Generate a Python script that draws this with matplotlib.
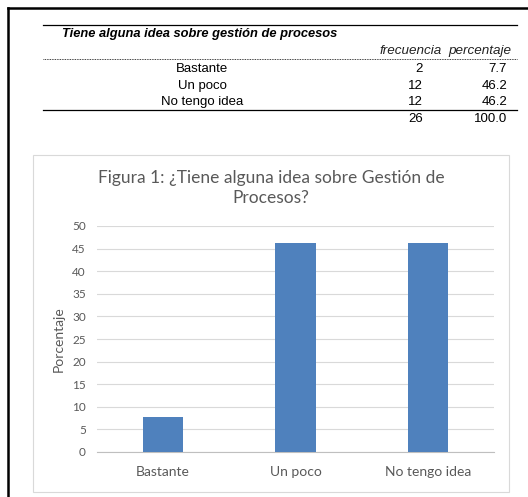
import matplotlib
matplotlib.use("Agg")
import matplotlib.pyplot as plt
from matplotlib.lines import Line2D
from matplotlib.patches import Rectangle

# survey answers: frequency and percentage
categorias = ["Bastante", "Un poco", "No tengo idea"]
frecuencia = [2, 12, 12]
porcentaje = [7.7, 46.2, 46.2]
total_frec = 26
total_pct = 100.0

W, H = 528, 497
fig = plt.figure(figsize=(W / 100, H / 100), dpi=100)


def fx(px):
    return px / W


def fy(py):
    return 1 - py / H


def hline(y, x0, x1, **kw):
    fig.add_artist(Line2D([fx(x0), fx(x1)], [fy(y), fy(y)], transform=fig.transFigure, **kw))


# page frame (top and left edges)
hline(8, 8, 528, color="black", lw=1.8)
fig.add_artist(Line2D([fx(8), fx(8)], [fy(8), fy(497)], transform=fig.transFigure,
                      color="black", lw=1.8))

# ---- frequency table ----
tfont = "Liberation Sans"
ts = 9.5
hline(25, 43, 517, color="black", lw=0.9)
fig.text(fx(62), fy(34), "Tiene alguna idea sobre gestión de procesos", family=tfont,
         fontsize=9.3, weight="bold", style="italic", va="center", ha="left")
fig.text(fx(442), fy(51), "frecuencia", family=tfont, fontsize=9.7, style="italic",
         va="center", ha="right", color="#222222")
fig.text(fx(511), fy(51), "percentaje", family=tfont, fontsize=9.7, style="italic",
         va="center", ha="right", color="#222222")
hline(59, 43, 517, color="black", lw=0.6, ls=(0, (1, 1)))
row_y = [69, 86, 102]
for yy, cat, f, p in zip(row_y, categorias, frecuencia, porcentaje):
    fig.text(fx(202), fy(yy), cat, family=tfont, fontsize=ts, va="center", ha="center")
    fig.text(fx(423), fy(yy), f"{f}", family=tfont, fontsize=ts, va="center", ha="right")
    fig.text(fx(507), fy(yy), f"{p:.1f}", family=tfont, fontsize=ts, va="center", ha="right")
hline(110, 43, 517, color="black", lw=0.9)
fig.text(fx(423), fy(119), f"{total_frec}", family=tfont, fontsize=ts, va="center", ha="right")
fig.text(fx(507), fy(119), f"{total_pct:.1f}", family=tfont, fontsize=ts, va="center", ha="right")

# ---- chart area ----
fig.add_artist(Rectangle((fx(33), fy(492)), fx(509) - fx(33), fy(155) - fy(492),
                         transform=fig.transFigure, fill=False, edgecolor="#D9D9D9", lw=0.8))

cfont = "Lato"
gray = "#595959"
fig.text(fx(271), fy(188), "Figura 1: ¿Tiene alguna idea sobre Gestión de\nProcesos?",
         family=cfont, fontsize=12.5, color=gray, ha="center", va="center",
         linespacing=1.25)

ax = fig.add_axes([fx(97), fy(452), fx(494) - fx(97), fy(226) - fy(452)])
x = range(len(categorias))
ax.bar(x, porcentaje, width=0.305, color="#4F81BD", zorder=3)
ax.set_xlim(-0.5, len(categorias) - 0.5)
ax.set_ylim(0, 50)
ax.set_yticks(range(0, 51, 5))
ax.set_xticks(list(x))
ax.set_xticklabels(categorias, family=cfont, fontsize=10, color=gray)
for lab in ax.get_yticklabels():
    lab.set_family(cfont)
    lab.set_fontsize(8.5)
    lab.set_color(gray)
ax.tick_params(axis="both", length=0)
ax.tick_params(axis="x", pad=10)
ax.tick_params(axis="y", pad=8)
ax.grid(axis="y", color="#D9D9D9", lw=0.8, zorder=0)
for s in ["top", "right", "left"]:
    ax.spines[s].set_visible(False)
ax.spines["bottom"].set_color("#BFBFBF")
ax.spines["bottom"].set_linewidth(0.8)
ax.set_ylabel("Porcentaje", family=cfont, fontsize=10, color=gray, labelpad=5)

fig.savefig("out.png", dpi=100)
